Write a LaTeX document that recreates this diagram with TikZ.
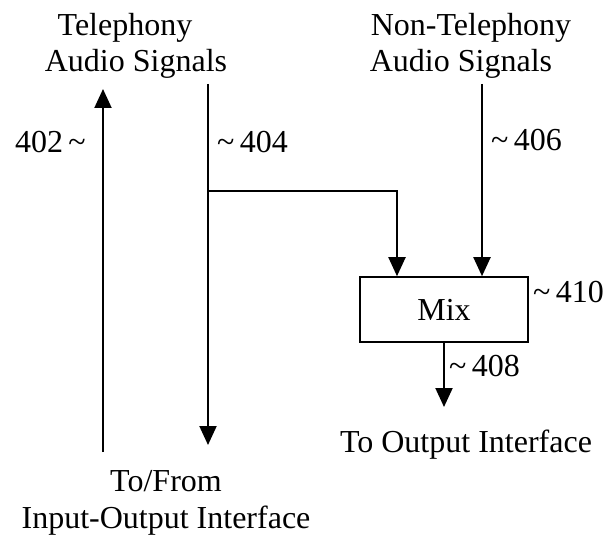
\documentclass[tikz,border=0pt]{standalone}
\usepackage{fontspec}
\setmainfont{Liberation Serif}
\usetikzlibrary{arrows.meta}
\tikzset{
  lbl/.style={inner sep=0pt, font=\fontsize{32}{36.5}\selectfont},
  mlbl/.style={lbl, align=center},
  sig/.style={line width=2pt, -{Triangle[width=17pt,length=19pt]}},
  mixbox/.style={draw, line width=1.6pt, minimum width=168pt, minimum height=65pt, inner sep=0pt, font=\fontsize{32}{36.5}\selectfont}
}
\newcommand{\tld}{\textasciitilde}
\begin{document}
\begin{tikzpicture}[x=1pt,y=-1pt]
\useasboundingbox (0,0) rectangle (613,540);
% labels
\node[mlbl, anchor=base] (tel) at (136,72) {Telephony\hspace*{22pt}\\Audio Signals};
\node[mlbl, anchor=base] (nontel) at (461,72) {\hspace*{20pt}Non-Telephony\\Audio Signals};
\node[mlbl, anchor=base] (io) at (166,528) {To/From\\Input-Output Interface};
\node[lbl, anchor=base] (outif) at (466,452) {To Output Interface};
\node[mixbox] (mix) at (444,309.5) {Mix};
% reference numerals
\node[lbl, anchor=east] (n402) at (86,142) {402\,\tld};
\node[lbl, anchor=west] (n404) at (217,142) {\tld\,404};
\node[lbl, anchor=west] (n406) at (491,140) {\tld\,406};
\node[lbl, anchor=west] (n410) at (533,292) {\tld\,410};
\node[lbl, anchor=west] (n408) at (449,366) {\tld\,408};
% coordinates
\coordinate (a402s) at (103,452);
\coordinate (a402e) at (103,89);
\coordinate (a404s) at (208,84);
\coordinate (a404e) at (208,445);
\coordinate (br) at (208,191);
\coordinate (a406s) at (482,84);
\coordinate (a408e) at (444,407);
% connectors
\draw[sig] (a402s) -- (a402e);
\draw[sig] (a404s) -- (a404e);
\draw[sig] (br) -| (mix.north -| 397,0);
\draw[sig] (a406s) -- (mix.north -| a406s);
\draw[sig] (mix.south) -- (a408e);
\end{tikzpicture}
\end{document}
